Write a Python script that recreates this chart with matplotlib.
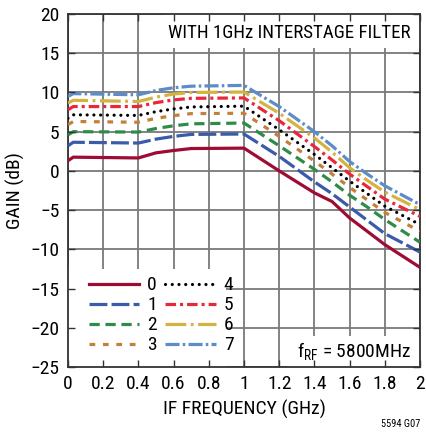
import matplotlib.pyplot as plt
from matplotlib.patches import Rectangle

plt.rcParams['font.family'] = ['Roboto Condensed', 'Liberation Sans', 'DejaVu Sans']
plt.rcParams['mathtext.default'] = 'regular'

# IF frequency (GHz) and gain (dB) for each setting
freq = [0, 0.03, 0.4, 0.5, 0.6, 0.7, 1.0, 1.2, 1.4, 1.5, 1.6, 1.7, 1.8, 2.0]
gain0 = [1.3, 1.75, 1.65, 2.3, 2.6, 2.85, 2.9, 0.0, -2.8, -3.9, -6.0, -7.7, -9.4, -12.3]
gain1 = [3.2, 3.65, 3.55, 4.05, 4.4, 4.65, 4.7, 1.85, -1.4, -2.9, -4.6, -6.3, -8.0, -10.35]
gain2 = [4.6, 5.0, 4.95, 5.4, 5.75, 6.0, 6.1, 3.2, 0.2, -1.4, -3.1, -4.6, -6.2, -9.1]
gain3 = [5.9, 6.3, 6.2, 6.7, 7.05, 7.3, 7.35, 4.4, 1.25, -0.4, -2.1, -3.7, -5.3, -7.7]
gain4 = [6.7, 7.15, 7.07, 7.55, 7.9, 8.15, 8.25, 5.25, 2.1, 0.4, -1.3, -2.9, -4.5, -6.85]
gain5 = [7.8, 8.2, 8.2, 8.7, 9.05, 9.25, 9.3, 6.4, 3.1, 1.4, -0.4, -2.0, -3.6, -5.8]
gain6 = [8.65, 9.0, 8.85, 9.4, 9.8, 10.0, 10.05, 7.35, 4.2, 2.4, 0.4, -1.2, -2.7, -4.95]
gain7 = [9.5, 9.85, 9.7, 10.25, 10.6, 10.8, 10.9, 8.2, 5.0, 3.2, 1.2, -0.4, -1.9, -4.3]
labels = ['0', '1', '2', '3', '4', '5', '6', '7']

colors = ['#9e0b35', '#3a5baa', '#2f8c48', '#c47f3a', 'black', '#e8283a', '#d4b43e', '#5d8ccb']
styles = ['-', (0, (5.6, 1.3)), (0, (3.2, 1.8)), (0, (1.8, 2.4)), (0, (0.01, 2.1)),
          (0, (3.3, 1.25, 0.95, 1.25)), (0, (6.5, 1.4, 0.9, 1.4)), (0, (4.4, 1.0, 0.8, 1.0))]

xticks = [0, 0.2, 0.4, 0.6, 0.8, 1.0, 1.2, 1.4, 1.6, 1.8, 2.0]
xticklabels = ['0', '0.2', '0.4', '0.6', '0.8', '1', '1.2', '1.4', '1.6', '1.8', '2']
yticks = [-25, -20, -15, -10, -5, 0, 5, 10, 15, 20]

fs = 14

fig = plt.figure(figsize=(4.27, 4.33), dpi=100)
ax = fig.add_axes([68 / 427, 1 - 367 / 433, 352 / 427, 353 / 433])

for g, c, s, lab in zip([gain0, gain1, gain2, gain3, gain4, gain5, gain6, gain7], colors, styles, labels):
    cap = 'round' if s == (0, (0.01, 2.1)) else 'butt'
    ax.plot(freq, g, color=c, linestyle=s, lw=2.3, label=lab, dash_capstyle=cap, zorder=3)

ax.set_xlim(0, 2)
ax.set_ylim(-25, 20)
ax.set_xticks(xticks)
ax.set_xticklabels(xticklabels)
ax.set_yticks(yticks)
ax.tick_params(length=0, labelsize=fs, pad=6)
ax.set_axisbelow(True)
ax.grid(True, color='#7a7a7a', lw=1.3)
for sp in ax.spines.values():
    sp.set_color('#333333')
    sp.set_linewidth(1.3)

ax.set_xlabel('IF FREQUENCY (GHz)', fontsize=fs, labelpad=5)
ax.set_ylabel('GAIN (dB)', fontsize=fs)
ax.yaxis.set_label_coords(-0.122, 0.5)

# white boxes that hide the grid
ax.add_patch(Rectangle((0.55, 15.7), 1.45, 4.3, facecolor='white', edgecolor='none', zorder=1))
ax.add_patch(Rectangle((0, -25), 0.9, 12.5, facecolor='white', edgecolor='none', zorder=1))
ax.add_patch(Rectangle((1.25, -25), 0.75, 4.0, facecolor='white', edgecolor='none', zorder=1))

ax.text(1.945, 17.55, 'WITH 1GHz INTERSTAGE FILTER', ha='right', va='center', fontsize=13.6, zorder=4)
ax.text(1.95, -23.0, 'f$_{RF}$ = 5800MHz', ha='right', va='center', fontsize=fs, zorder=4)

ax.legend(ncol=2, loc='upper left', bbox_to_anchor=(0.02, 0.295), frameon=False, fontsize=fs,
          handlelength=2.6, handletextpad=0.4, columnspacing=0.45, labelspacing=0.1,
          borderpad=0.2)

# overlay axes for the inward ticks on all sides
axt = fig.add_axes(ax.get_position(), facecolor='none', zorder=5)
axt.set_xlim(0, 2)
axt.set_ylim(-25, 20)
axt.set_xticks(xticks)
axt.set_yticks(yticks)
axt.tick_params(direction='in', length=5, width=1.0, color='#333333',
                top=True, right=True, labelbottom=False, labelleft=False)
for sp in axt.spines.values():
    sp.set_visible(False)

fig.text(420 / 427, 1 - 424 / 433, '5594 G07', ha='right', va='center', fontsize=7.5)

fig.savefig('out.png', dpi=100)
